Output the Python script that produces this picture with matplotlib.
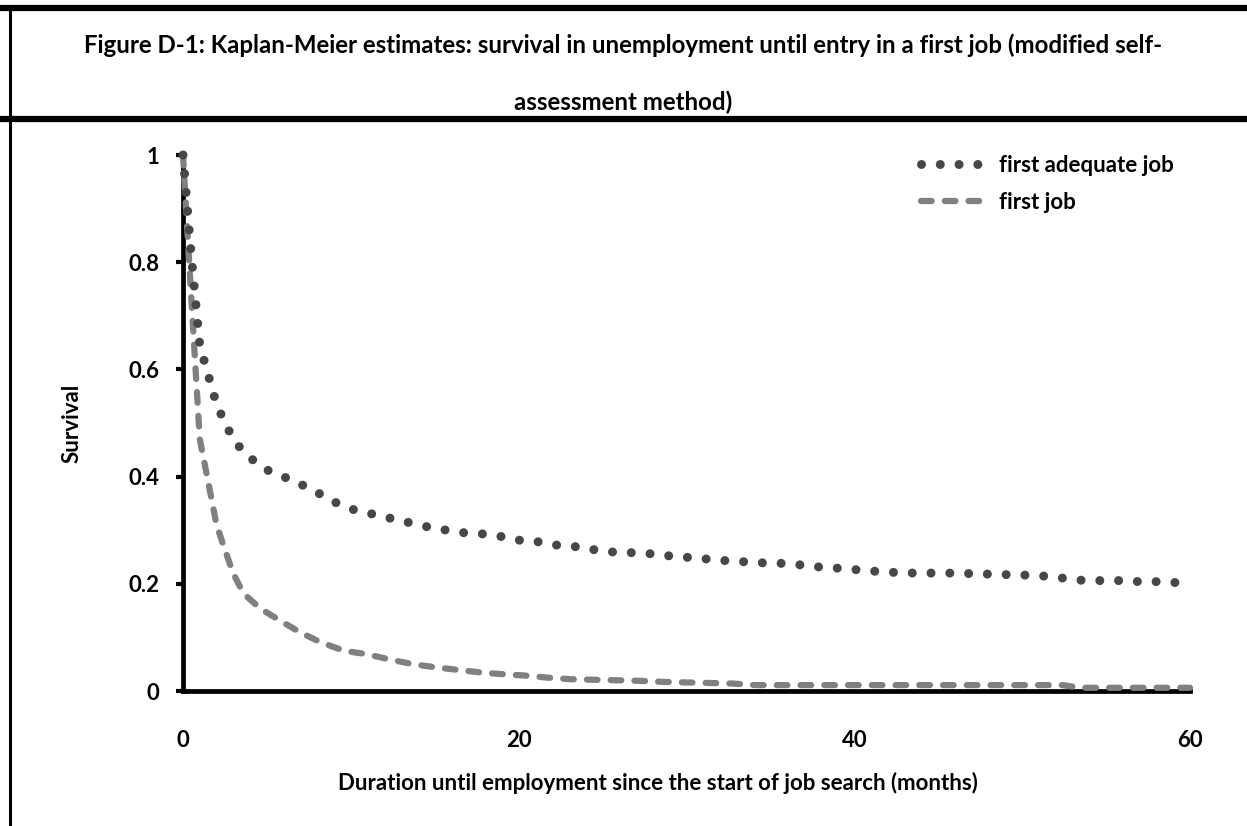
import matplotlib
matplotlib.use('Agg')
import matplotlib.pyplot as plt
from matplotlib.lines import Line2D

plt.rcParams['font.family'] = ['Lato', 'DejaVu Sans']
plt.rcParams['font.weight'] = 'bold'

# Kaplan-Meier survival (months, survival)
adequate_months = [0, 0.5, 1, 1.5, 2, 2.5, 3, 3.4, 4.2, 5.1, 6.2, 7.2, 8.2, 9.2, 10.2,
                   11.3, 12.4, 13.5, 14.6, 15.7, 16.8, 17.9, 19, 20.1, 21.3, 22.3, 23.5,
                   24.6, 25.7, 26.8, 27.9, 29, 30.2, 31.3, 32.4, 33.5, 34.6, 35.8, 36.9,
                   38, 39.1, 40.2, 41.4, 42.5, 43.6, 44.7, 45.8, 47, 48.1, 49.2, 50.4,
                   51.5, 52.6, 53.7, 56, 57, 58.2, 59.3, 60]
adequate_surv = [1.0, 0.81, 0.645, 0.59, 0.535, 0.50, 0.47, 0.454, 0.43, 0.411, 0.397,
                 0.383, 0.367, 0.35, 0.338, 0.33, 0.322, 0.314, 0.306, 0.30, 0.295, 0.293,
                 0.288, 0.281, 0.278, 0.272, 0.269, 0.263, 0.259, 0.258, 0.256, 0.252,
                 0.249, 0.246, 0.243, 0.241, 0.239, 0.238, 0.235, 0.231, 0.229, 0.226,
                 0.223, 0.221, 0.22, 0.22, 0.22, 0.219, 0.218, 0.217, 0.216, 0.214, 0.21,
                 0.206, 0.206, 0.204, 0.204, 0.202, 0.202]

first_months = [0, 0.5, 1, 1.5, 2, 2.5, 3, 3.6, 4.6, 5.8, 7, 8.2, 9.6, 10.9, 12.3, 13.7,
                15.1, 16.5, 17.9, 19.2, 20.3, 21.7, 23.1, 24.4, 25.9, 27.2, 28.6, 29.9,
                31.3, 32.7, 34.1, 41.4, 52.4, 53.5, 60]
first_surv = [1.0, 0.73, 0.47, 0.39, 0.31, 0.263, 0.219, 0.182, 0.154, 0.131, 0.109,
              0.091, 0.075, 0.069, 0.059, 0.050, 0.044, 0.039, 0.034, 0.031, 0.029, 0.025,
              0.022, 0.021, 0.020, 0.019, 0.017, 0.016, 0.015, 0.014, 0.011, 0.011, 0.011,
              0.006, 0.006]

y_ticks = [0, 0.2, 0.4, 0.6, 0.8, 1]
x_ticks = [0, 20, 40, 60]

fig = plt.figure(figsize=(12.47, 8.26), dpi=100)
W, H = 1247, 826
ax = fig.add_axes([183 / W, 1 - 691 / H, (1190 - 183) / W, (691 - 155) / H])

ax.plot(adequate_months, adequate_surv, color='#474747', lw=6.5,
        linestyle=(0, (0.001, 2.08)), dash_capstyle='round', solid_capstyle='round',
        label='first adequate job', zorder=5, clip_on=False)
ax.plot(first_months, first_surv, color='#808080', lw=4.5,
        linestyle=(0, (1.7, 2.1)), dash_capstyle='round',
        label='first job', zorder=4, clip_on=False)

ax.set_xlim(0, 60)
ax.set_ylim(0, 1)
ax.set_xticks(x_ticks)
ax.set_yticks(y_ticks)
ax.set_yticklabels([f'{v:g}' for v in y_ticks])
for s in ['top', 'right']:
    ax.spines[s].set_visible(False)
for s in ['left', 'bottom']:
    ax.spines[s].set_linewidth(3.4)
    ax.spines[s].set_zorder(2)
ax.tick_params(axis='y', length=5, width=3, pad=12, labelsize=16)
ax.tick_params(axis='x', length=0, pad=28, labelsize=16)

ax.legend(loc='upper left', bbox_to_anchor=(921 / W, 1 - 155 / H),
          bbox_transform=fig.transFigure, frameon=False, fontsize=16,
          handlelength=2.9, handletextpad=0.6, labelspacing=0.7,
          borderpad=0, borderaxespad=0)

fig.text(72 / W, 1 - 423 / H, 'Survival', rotation=90, ha='center', va='center',
         fontsize=16)
fig.text(658 / W, 1 - 783 / H,
         'Duration until employment since the start of job search (months)',
         ha='center', va='center', fontsize=16)

fig.text(623 / W, 1 - 45 / H,
         'Figure D-1: Kaplan-Meier estimates: survival in unemployment until entry in a first job (modified self-',
         ha='center', va='center', fontsize=17.3)
fig.text(623 / W, 1 - 102 / H, 'assessment method)', ha='center', va='center', fontsize=17.3)

# frame lines of the figure box
fig.add_artist(Line2D([0, 1], [1 - 8 / H, 1 - 8 / H], transform=fig.transFigure,
                      color='black', lw=4.5))
fig.add_artist(Line2D([0, 1], [1 - 119 / H, 1 - 119 / H], transform=fig.transFigure,
                      color='black', lw=4.5))
fig.add_artist(Line2D([9.5 / W, 9.5 / W], [0, 1 - 8 / H], transform=fig.transFigure,
                      color='black', lw=2.2))

fig.savefig('out.png', dpi=100)
